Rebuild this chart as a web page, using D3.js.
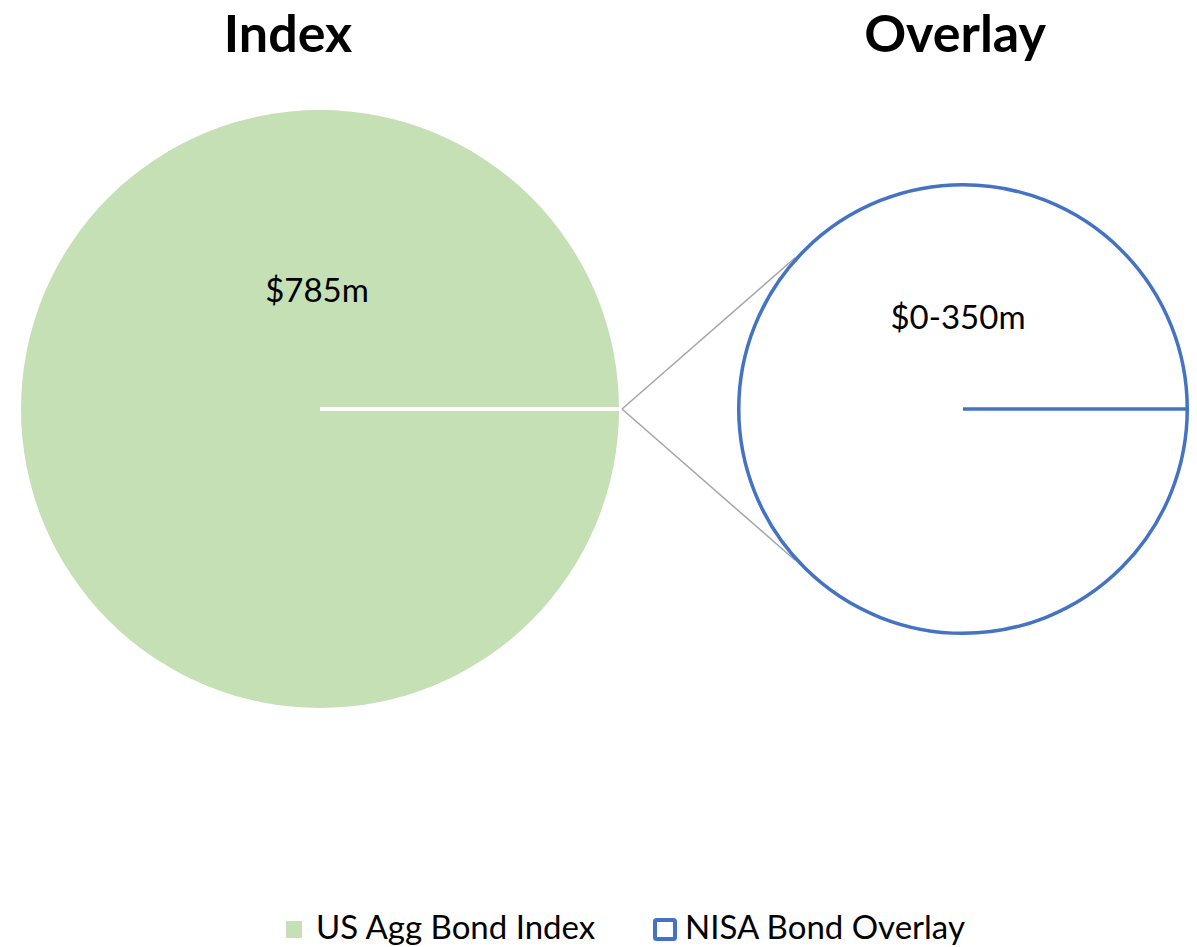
<!DOCTYPE html>
<html><head><meta charset="utf-8">
<script src="https://cdn.jsdelivr.net/npm/d3@7"></script>
<style>body{margin:0;background:#fff}svg{display:block}text{font-family:Lato,"Noto Sans",sans-serif}</style>
</head><body><svg id="c" width="1197" height="947"></svg>
<script>
const pieTitles = ["Index", "Overlay"];
const seriesNames = ["US Agg Bond Index", "NISA Bond Overlay"];
const seriesValues = [785, 350];
const valueLabels = ["$785m", "$0-350m"];

const svg = d3.select("#c");
const colors = ["#C5E0B4", "#FFFFFF"];
const strokes = ["#FFFFFF", "#4472C4"];
const strokeW = [4, 3.5];
const centers = [[320, 409], [963, 409]];
const radii = [299, 226];
const titleX = [288, 955];
const labelPos = [[317, 302], [958, 329]];

const startA = Math.PI / 2;
const pie = d3.pie().sort(null).startAngle(startA).endAngle(startA + 2 * Math.PI);

// connector lines
const apex = [622, 409];
const ang = [-138, 138].map(a => a * Math.PI / 180);
ang.forEach(a => {
  svg.append("line")
    .attr("x1", apex[0]).attr("y1", apex[1])
    .attr("x2", centers[1][0] + radii[1] * Math.cos(a))
    .attr("y2", centers[1][1] + radii[1] * Math.sin(a))
    .attr("stroke", "#A5A5A5").attr("stroke-width", 1.5);
});

seriesValues.forEach((v, i) => {
  const g = svg.append("g").attr("transform", `translate(${centers[i][0]},${centers[i][1]})`);
  const r = radii[i] - (i === 0 ? 0 : 1.75);
  const arc = d3.arc().innerRadius(0).outerRadius(r);
  const arcs = pie([v]);
  g.selectAll("path").data(arcs).join("path")
    .attr("d", arc)
    .attr("fill", colors[i])
    .attr("stroke", i === 0 ? "none" : strokes[i])
    .attr("stroke-width", strokeW[i]);
  // slice boundary (radial edge)
  arcs.forEach(d => {
    const p = d3.pointRadial(d.startAngle, r);
    g.append("line").attr("x1", 0).attr("y1", 0)
      .attr("x2", p[0]).attr("y2", p[1])
      .attr("stroke", strokes[i]).attr("stroke-width", strokeW[i]);
  });
  svg.append("text").attr("x", titleX[i]).attr("y", 52)
    .attr("text-anchor", "middle").attr("font-weight", 700)
    .attr("font-size", 52).attr("fill", "#000").text(pieTitles[i]);
  svg.append("text").attr("x", labelPos[i][0]).attr("y", labelPos[i][1])
    .attr("text-anchor", "middle").attr("font-size", 33).attr("fill", "#000")
    .text(valueLabels[i]);
});

// legend
const leg = [[286, 316], [655, 685]];
seriesNames.forEach((n, i) => {
  if (i === 0) {
    svg.append("rect").attr("x", leg[i][0]).attr("y", 921).attr("width", 16).attr("height", 17)
      .attr("fill", colors[0]);
  } else {
    svg.append("rect").attr("x", leg[i][0]).attr("y", 920).attr("width", 20).attr("height", 19)
      .attr("rx", 1.5)
      .attr("fill", "#fff").attr("stroke", strokes[1]).attr("stroke-width", 4);
  }
  svg.append("text").attr("x", leg[i][1]).attr("y", 939)
    .attr("font-size", 33).attr("fill", "#000").text(n);
});
</script></body></html>
